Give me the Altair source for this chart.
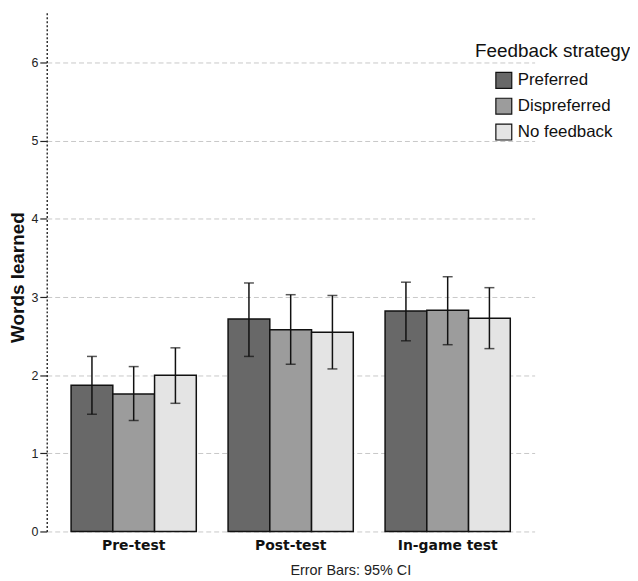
import altair as alt
import pandas as pd

tests = ["Pre-test", "Post-test", "In-game test"]
strategies = ["Preferred", "Dispreferred", "No feedback"]
colors = ["#686868", "#9c9c9c", "#e4e4e4"]

mean_preferred = [1.87, 2.72, 2.82]
mean_dispreferred = [1.76, 2.58, 2.83]
mean_nofeedback = [2.00, 2.55, 2.73]

lo_preferred = [1.50, 2.24, 2.44]
lo_dispreferred = [1.42, 2.14, 2.39]
lo_nofeedback = [1.64, 2.08, 2.34]

hi_preferred = [2.24, 3.18, 3.19]
hi_dispreferred = [2.11, 3.03, 3.26]
hi_nofeedback = [2.35, 3.02, 3.12]

y_ticks = [0, 1, 2, 3, 4, 5, 6]

means = [mean_preferred, mean_dispreferred, mean_nofeedback]
los = [lo_preferred, lo_dispreferred, lo_nofeedback]
his = [hi_preferred, hi_dispreferred, hi_nofeedback]

rows = []
for s, m, l, h in zip(strategies, means, los, his):
    for t, mv, lv, hv in zip(tests, m, l, h):
        rows.append({"test": t, "strategy": s, "mean": mv, "lo": lv, "hi": hv})
df = pd.DataFrame(rows)

FONT = "Liberation Sans"

x_enc = alt.X(
    "test:N",
    sort=tests,
    scale=alt.Scale(paddingInner=0.2025, paddingOuter=0.155),
    axis=alt.Axis(
        title=None,
        domain=False,
        ticks=False,
        labelAngle=0,
        labelFont="DejaVu Sans",
        labelFontWeight="bold",
        labelFontSize=14,
        labelColor="#111111",
        labelPadding=7,
    ),
)
xoff_enc = alt.XOffset(
    "strategy:N", sort=strategies, scale=alt.Scale(paddingInner=0, paddingOuter=0)
)
y_scale = alt.Scale(domain=[0, 6.65], nice=False, zero=True)

base = alt.Chart(df)

bars = base.mark_bar(stroke="#111111", strokeWidth=1.5).encode(
    x=x_enc,
    xOffset=xoff_enc,
    y=alt.Y(
        "mean:Q",
        scale=y_scale,
        axis=alt.Axis(
            values=y_ticks,
            format="d",
            title="Words learned",
            titleFont=FONT,
            titleFontSize=19,
            titleFontWeight="bold",
            titleColor="#111111",
            titleX=-19,
            titleY=267,
            titleAngle=270,
            titleBaseline="bottom",
            labelFont=FONT,
            labelFontSize=12.5,
            labelColor="#222222",
            labelPadding=2,
            tickSize=7,
            tickColor="#222222",
            tickWidth=1.2,
            domainColor="#333333",
            domainDash=[2, 2],
            domainWidth=1.5,
            grid=True,
            gridColor="#c8c8c8",
            gridDash=[5, 3],
            gridWidth=1,
        ),
    ),
    color=alt.Color(
        "strategy:N",
        sort=strategies,
        scale=alt.Scale(domain=strategies, range=colors),
        legend=alt.Legend(
            title=None,
            orient="none",
            legendX=451,
            legendY=60,
            padding=0,
            symbolType="square",
            symbolSize=256,
            symbolStrokeColor="#111111",
            symbolStrokeWidth=1.2,
            symbolOffset=0,
            labelFont=FONT,
            labelFontSize=17,
            labelColor="#111111",
            labelOffset=5,
            rowPadding=4,
        ),
    ),
)

rules = base.mark_rule(color="#111111", strokeWidth=1.5).encode(
    x=x_enc, xOffset=xoff_enc, y=alt.Y("lo:Q", scale=y_scale), y2="hi:Q"
)
caps_lo = base.mark_tick(color="#111111", thickness=1.5, size=10).encode(
    x=x_enc, xOffset=xoff_enc, y=alt.Y("lo:Q", scale=y_scale)
)
caps_hi = base.mark_tick(color="#111111", thickness=1.5, size=10).encode(
    x=x_enc, xOffset=xoff_enc, y=alt.Y("hi:Q", scale=y_scale)
)

legend_title = alt.Chart(pd.DataFrame({"t": ["Feedback strategy"]})).mark_text(
    font=FONT, fontSize=19, color="#111111", align="center", baseline="alphabetic"
).encode(x=alt.value(509), y=alt.value(45), text="t:N")

note = alt.Chart(pd.DataFrame({"t": ["Error Bars: 95% CI"]})).mark_text(
    font=FONT, fontSize=14.5, color="#222222", align="center", baseline="alphabetic"
).encode(x=alt.value(306), y=alt.value(567), text="t:N")

chart = (
    alt.layer(bars, rules, caps_lo, caps_hi, legend_title, note)
    .properties(
        width=491,
        height=523,
        background="white",
        autosize=alt.AutoSizeParams(type="none"),
        padding={"left": 39, "top": 2, "right": 96, "bottom": 46},
    )
    .configure_view(strokeWidth=0, stroke="transparent")
)

chart.save("out.html", embed_options={"renderer": "svg", "actions": False})
